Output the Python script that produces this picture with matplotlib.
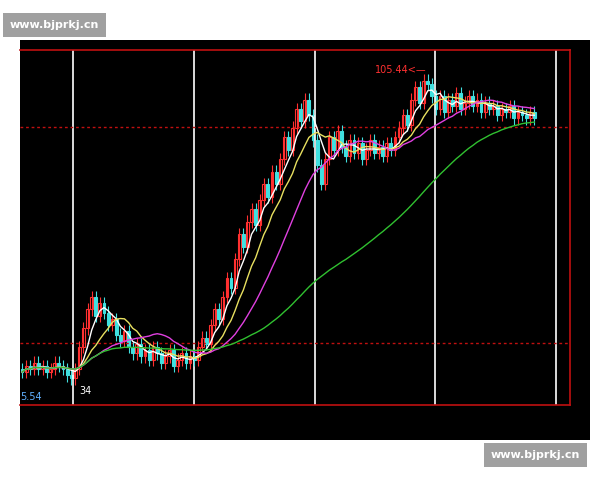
import matplotlib
matplotlib.use("Agg")
import matplotlib.pyplot as plt
import numpy as np
import pandas as pd

closes = [95.8,96.0,95.9,96.1,95.9,96.0,95.8,95.9,96.1,96.0,95.9,95.7,95.6,95.9,
          96.6,97.2,97.8,98.2,97.6,98.0,
          97.7,97.3,97.5,97.0,96.8,97.1,96.6,96.4,
          96.7,96.3,96.5,96.2,96.6,96.4,96.1,96.3,96.5,96.0,96.2,96.4,96.1,96.3,96.2,
          96.6,96.9,96.7,97.3,97.8,97.5,98.2,98.8,98.5,
          99.4,100.2,99.8,100.6,101.0,100.5,101.3,101.8,
          101.4,102.2,101.8,102.6,103.3,102.9,103.6,104.2,103.8,
          104.5,104.0,103.2,102.4,101.8,102.6,
          103.3,102.9,103.5,103.0,102.7,103.2,102.8,103.1,102.6,102.9,103.2,102.8,103.0,102.7,103.1,102.9,103.3,103.6,
          104.0,103.7,104.5,104.9,104.4,105.1,105.0,104.6,
          104.2,104.6,104.1,104.5,104.3,104.7,104.2,104.4,104.6,104.3,104.5,104.1,104.4,104.2,104.3,104.0,104.2,104.1,104.3,103.9,104.1,104.0,103.9,104.1,103.9]
first_open = 95.9
high_label = "105.44<—"
low_label = "5.54"
mark_label = "34"

c = np.array(closes)
o = np.concatenate([[first_open], c[:-1]])
n = len(c)
idx = np.arange(n)
s = pd.Series(c)
ma5 = s.rolling(5, min_periods=1).mean()
ma10 = s.rolling(10, min_periods=1).mean()
ma20 = s.rolling(20, min_periods=1).mean()
ma60 = s.rolling(60, min_periods=1).mean() + np.linspace(0.9, 0, n).clip(0) * 0

fig = plt.figure(figsize=(6, 4.8), dpi=100)
fig.patch.set_facecolor("white")
W, H = 600, 480
def rect(x0, y0, x1, y1):
    return [x0 / W, 1 - y1 / H, (x1 - x0) / W, (y1 - y0) / H]

bg = fig.add_axes(rect(20, 40, 590, 440))
bg.set_facecolor("black"); bg.set_xticks([]); bg.set_yticks([])
for sp in bg.spines.values(): sp.set_visible(False)

ax = fig.add_axes(rect(20, 50, 570, 405))
ax.patch.set_alpha(0)
ax.set_xlim(-0.49, 133.7)
ax.set_ylim(94.75, 106.08)
ax.set_xticks([]); ax.set_yticks([])
ax.spines["left"].set_visible(False)
for k in ["top", "right", "bottom"]:
    ax.spines[k].set_color("#c01010"); ax.spines[k].set_linewidth(1.2)

for xv in [12.4, 42, 71.5, 100.7, 130.2]:
    ax.axvline(xv, color="white", lw=1.2)
for yv in [103.62, 96.73]:
    ax.axhline(yv, color="#c01010", lw=1, ls=(0, (2, 2)))

for i in range(n):
    up = c[i] >= o[i]
    lo, hi = min(o[i], c[i]), max(o[i], c[i])
    if hi - lo < 0.05: hi = lo + 0.05
    col = "#ff3030" if up else "#40e0e0"
    ax.vlines(i, lo - 0.2, hi + 0.2, color=col, lw=0.8)
    ax.bar(i, hi - lo, bottom=lo, width=0.7, color="black" if up else col, edgecolor=col, lw=0.8)

ax.plot(idx, ma5, color="white", lw=1)
ax.plot(idx, ma10, color="#e8e060", lw=1)
ax.plot(idx, ma20, color="#e040e0", lw=1)
ax.plot(idx, ma60, color="#30c030", lw=1)

ax.text(86, 105.44, high_label, color="#ff3030", fontsize=7, va="center")
ax.text(14, 95.2, mark_label, color="white", fontsize=7, va="center")
bg.text(0.0, 0.1, low_label, color="#60b0ff", fontsize=7, transform=bg.transAxes)

fig.text(10/W, 1-25/H, "www.bjprkj.cn", color="white", fontsize=8, fontweight="bold", va="center",
         bbox=dict(boxstyle="square,pad=0.6", fc="#a0a0a0", ec="none"))
fig.text(491/W, 1-455/H, "www.bjprkj.cn", color="white", fontsize=8, fontweight="bold", va="center",
         bbox=dict(boxstyle="square,pad=0.6", fc="#a0a0a0", ec="none"))
fig.savefig("out.png", dpi=100)
